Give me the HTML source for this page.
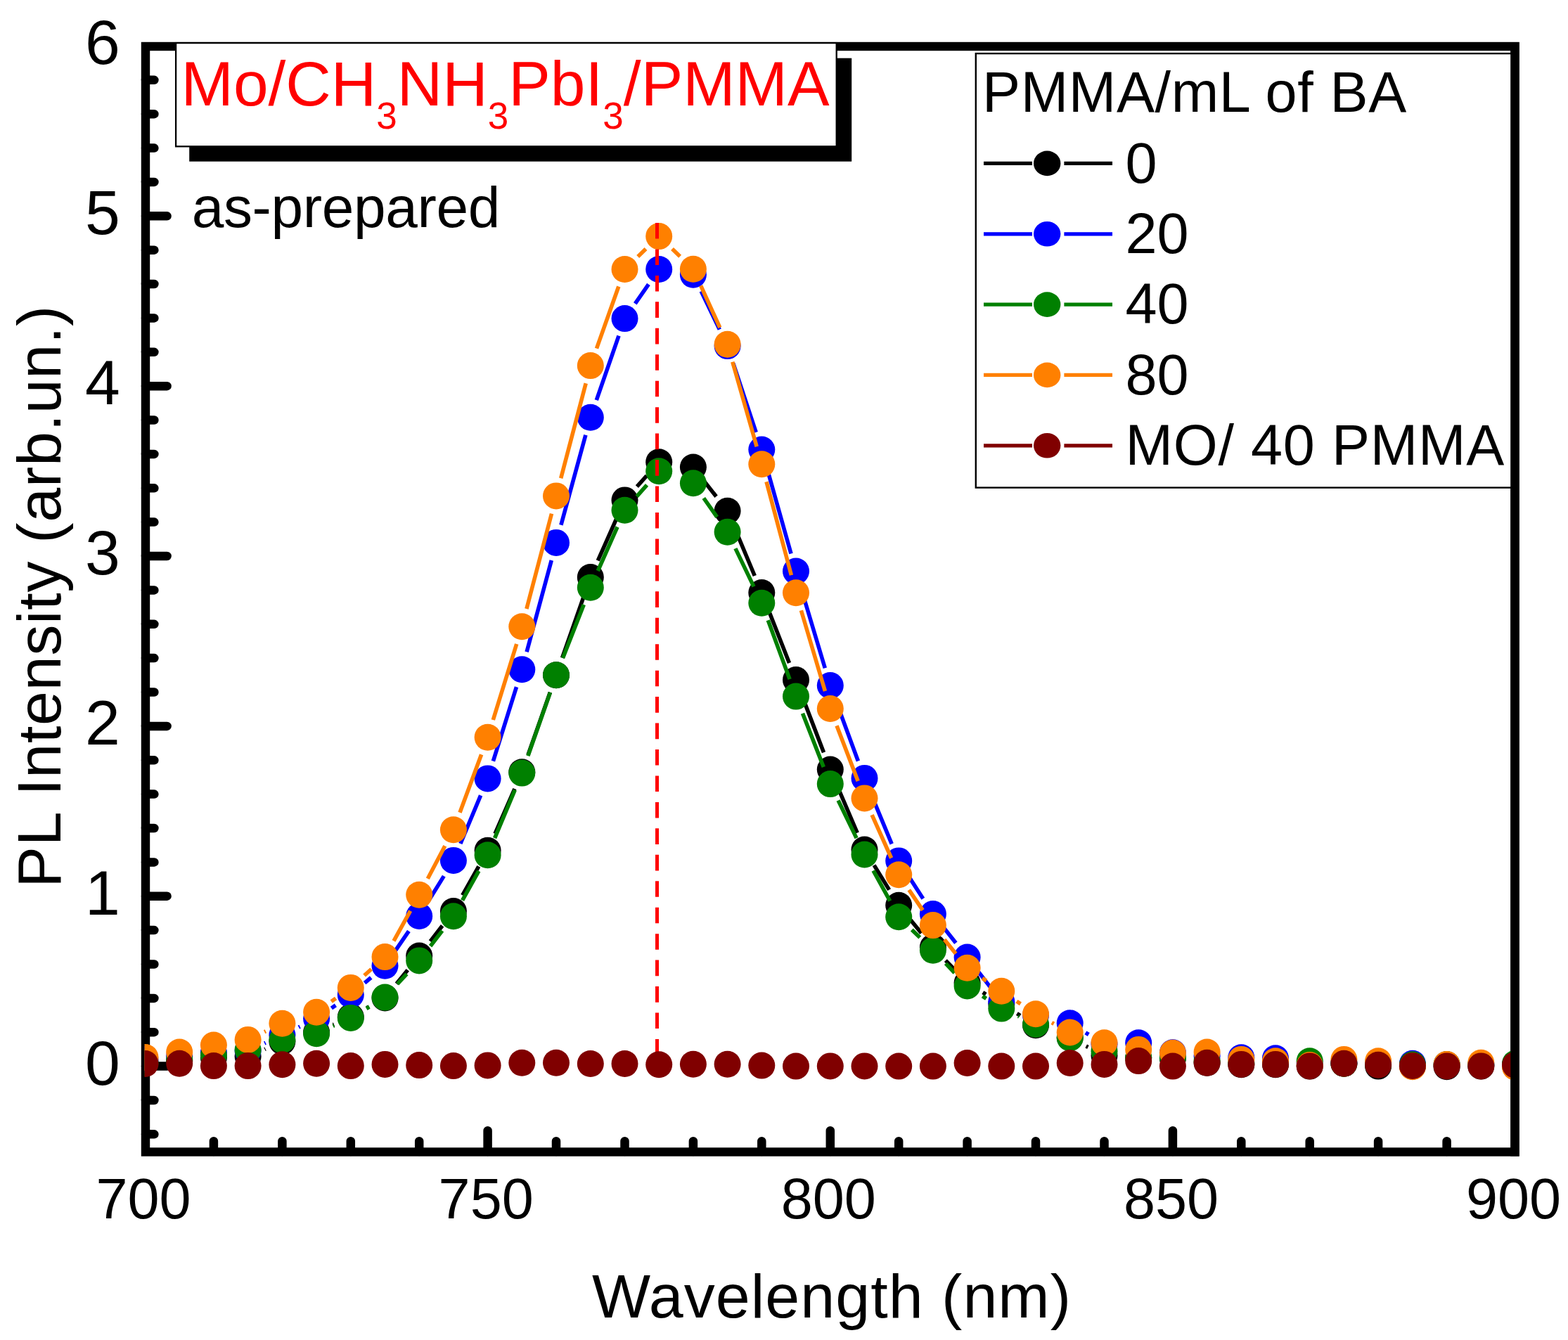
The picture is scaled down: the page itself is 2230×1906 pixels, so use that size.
<!DOCTYPE html><html><head><meta charset="utf-8"><title>PL Intensity</title><style>html,body{margin:0;padding:0;background:#fff;}svg{display:block;}</style></head><body><svg width="2230" height="1906" viewBox="0 0 2230 1906"><rect width="2230" height="1906" fill="#fff"/><defs><clipPath id="pc"><rect x="205.5" y="66" width="1950" height="1572"/></clipPath></defs><rect x="207" y="66" width="1947.5" height="1572.5" fill="none" stroke="#000" stroke-width="12.4" stroke-linejoin="miter"/><path d="M207 1613.3H219.4M207 1565.0H219.4M207 1516.6H237.6M207 1468.2H219.4M207 1419.9H219.4M207 1371.5H219.4M207 1323.1H219.4M207 1274.7H237.6M207 1226.4H219.4M207 1178.0H219.4M207 1129.6H219.4M207 1081.3H219.4M207 1032.9H237.6M207 984.5H219.4M207 936.1H219.4M207 887.8H219.4M207 839.4H219.4M207 791.0H237.6M207 742.6H219.4M207 694.3H219.4M207 645.9H219.4M207 597.5H219.4M207 549.2H237.6M207 500.8H219.4M207 452.4H219.4M207 404.0H219.4M207 355.7H219.4M207 307.3H237.6M207 258.9H219.4M207 210.6H219.4M207 162.2H219.4M207 113.8H219.4M303.9 1638V1623.2M401.4 1638V1623.2M498.8 1638V1623.2M596.2 1638V1623.2M693.6 1638V1608.2M791.0 1638V1623.2M888.5 1638V1623.2M985.9 1638V1623.2M1083.3 1638V1623.2M1180.8 1638V1608.2M1278.2 1638V1623.2M1375.6 1638V1623.2M1473.0 1638V1623.2M1570.5 1638V1623.2M1667.9 1638V1608.2M1765.3 1638V1623.2M1862.7 1638V1623.2M1960.1 1638V1623.2M2057.6 1638V1623.2" stroke="#000" stroke-width="12.5" stroke-linecap="round" fill="none"/><g font-family="'Liberation Sans', Arial, sans-serif" font-size="89.5" fill="#000"><text x="170.7" y="1542.6" text-anchor="end">0</text><text x="170.7" y="1300.7" text-anchor="end">1</text><text x="170.7" y="1058.9" text-anchor="end">2</text><text x="170.7" y="817.0" text-anchor="end">3</text><text x="170.7" y="575.2" text-anchor="end">4</text><text x="170.7" y="333.3" text-anchor="end">5</text><text x="170.7" y="91.4" text-anchor="end">6</text></g><g font-family="'Liberation Sans', Arial, sans-serif" font-size="81" fill="#000"><text x="204.1" y="1733.2" text-anchor="middle">700</text><text x="691.2" y="1733.2" text-anchor="middle">750</text><text x="1178.3" y="1733.2" text-anchor="middle">800</text><text x="1665.5" y="1733.2" text-anchor="middle">850</text><text x="2152.6" y="1733.2" text-anchor="middle">900</text></g><text font-family="'Liberation Sans', Arial, sans-serif" font-size="88" x="842" y="1873.8" textLength="681.00" lengthAdjust="spacing">Wavelength (nm)</text><text font-family="'Liberation Sans', Arial, sans-serif" font-size="88" transform="translate(86 1262.7) rotate(-90)" textLength="828.14" lengthAdjust="spacing">PL Intensity (arb.un.)</text><g clip-path="url(#pc)"><path d="M376.5 1492.4L377.5 1491.9M473.8 1457.6L475.0 1457.1M521.5 1433.8L524.8 1432.0M563.9 1399.2L579.8 1379.8M612.0 1339.0L629.1 1316.7M657.7 1273.4L680.8 1232.3M704.0 1185.9L731.9 1122.0M751.0 1073.7L782.4 984.8M799.6 935.8L831.2 845.6M850.3 797.3L877.9 735.2M905.9 692.1L919.8 676.6M1001.9 685.0L1018.6 706.2M1044.7 750.7L1073.3 819.0M1092.8 867.2L1122.5 942.9M1141.3 991.4L1171.5 1070.3M1191.0 1118.5L1219.2 1184.6M1243.1 1230.6L1264.6 1265.6M1294.6 1307.9L1310.4 1327.2M1344.9 1366.1L1357.6 1379.3M1397.8 1411.6L1402.1 1414.3M1446.4 1441.6L1451.0 1444.5M1544.7 1488.1L1547.4 1489.5" stroke="#000000" stroke-width="5.6" fill="none"/><g fill="#000000"><circle cx="206.5" cy="1511.8" r="19.0"/><circle cx="255.2" cy="1509.3" r="19.0"/><circle cx="303.9" cy="1504.5" r="19.0"/><circle cx="352.6" cy="1502.8" r="19.0"/><circle cx="401.4" cy="1481.5" r="19.0"/><circle cx="450.1" cy="1468.2" r="19.0"/><circle cx="498.8" cy="1446.5" r="19.0"/><circle cx="547.5" cy="1419.4" r="19.0"/><circle cx="596.2" cy="1359.6" r="19.0"/><circle cx="644.9" cy="1296.0" r="19.0"/><circle cx="693.6" cy="1209.7" r="19.0"/><circle cx="742.3" cy="1098.2" r="19.0"/><circle cx="791.0" cy="960.3" r="19.0"/><circle cx="839.8" cy="821.0" r="19.0"/><circle cx="888.5" cy="711.4" r="19.0"/><circle cx="937.2" cy="657.3" r="19.0"/><circle cx="985.9" cy="664.5" r="19.0"/><circle cx="1034.6" cy="726.7" r="19.0"/><circle cx="1083.3" cy="843.0" r="19.0"/><circle cx="1132.0" cy="967.1" r="19.0"/><circle cx="1180.8" cy="1094.6" r="19.0"/><circle cx="1229.5" cy="1208.5" r="19.0"/><circle cx="1278.2" cy="1287.8" r="19.0"/><circle cx="1326.9" cy="1347.3" r="19.0"/><circle cx="1375.6" cy="1398.1" r="19.0"/><circle cx="1424.3" cy="1427.8" r="19.0"/><circle cx="1473.0" cy="1458.3" r="19.0"/><circle cx="1521.7" cy="1476.0" r="19.0"/><circle cx="1570.5" cy="1501.6" r="19.0"/><circle cx="1619.2" cy="1504.5" r="19.0"/><circle cx="1667.9" cy="1505.7" r="19.0"/><circle cx="1716.6" cy="1511.8" r="19.0"/><circle cx="1765.3" cy="1514.2" r="19.0"/><circle cx="1814.0" cy="1514.2" r="19.0"/><circle cx="1862.7" cy="1516.6" r="19.0"/><circle cx="1911.4" cy="1512.7" r="19.0"/><circle cx="1960.1" cy="1516.6" r="19.0"/><circle cx="2008.9" cy="1516.6" r="19.0"/><circle cx="2057.6" cy="1517.3" r="19.0"/><circle cx="2106.3" cy="1516.6" r="19.0"/><circle cx="2155.0" cy="1516.6" r="19.0"/></g><path d="M376.2 1483.9L377.7 1483.2M424.8 1461.1L426.6 1460.2M471.4 1434.0L477.4 1429.9M518.6 1398.2L527.7 1390.5M562.2 1352.3L581.4 1324.4M609.8 1280.9L631.3 1246.1M654.9 1200.0L683.6 1131.4M701.4 1082.6L734.5 977.1M749.1 927.2L784.3 797.0M797.9 746.8L832.9 618.7M848.3 569.1L880.0 477.7M903.3 431.8L922.4 404.4M997.2 414.2L1023.3 468.6M1042.8 516.8L1075.2 614.9M1090.4 664.6L1125.0 787.5M1139.5 837.5L1173.3 950.2M1189.8 999.5L1220.4 1082.5M1239.4 1130.9L1268.2 1200.4M1292.2 1246.3L1312.8 1278.3M1343.0 1320.5L1359.4 1341.2M1391.5 1382.2L1408.4 1404.1M1543.9 1468.8L1548.3 1471.5" stroke="#0000ff" stroke-width="5.6" fill="none"/><g fill="#0000ff"><circle cx="206.5" cy="1506.9" r="19.0"/><circle cx="255.2" cy="1502.1" r="19.0"/><circle cx="303.9" cy="1497.3" r="19.0"/><circle cx="352.6" cy="1494.8" r="19.0"/><circle cx="401.4" cy="1472.3" r="19.0"/><circle cx="450.1" cy="1448.9" r="19.0"/><circle cx="498.8" cy="1415.0" r="19.0"/><circle cx="547.5" cy="1373.7" r="19.0"/><circle cx="596.2" cy="1303.0" r="19.0"/><circle cx="644.9" cy="1223.9" r="19.0"/><circle cx="693.6" cy="1107.4" r="19.0"/><circle cx="742.3" cy="952.3" r="19.0"/><circle cx="791.0" cy="771.9" r="19.0"/><circle cx="839.8" cy="593.7" r="19.0"/><circle cx="888.5" cy="453.1" r="19.0"/><circle cx="937.2" cy="383.0" r="19.0"/><circle cx="985.9" cy="390.7" r="19.0"/><circle cx="1034.6" cy="492.1" r="19.0"/><circle cx="1083.3" cy="639.6" r="19.0"/><circle cx="1132.0" cy="812.5" r="19.0"/><circle cx="1180.8" cy="975.1" r="19.0"/><circle cx="1229.5" cy="1106.9" r="19.0"/><circle cx="1278.2" cy="1224.4" r="19.0"/><circle cx="1326.9" cy="1300.1" r="19.0"/><circle cx="1375.6" cy="1361.6" r="19.0"/><circle cx="1424.3" cy="1424.7" r="19.0"/><circle cx="1473.0" cy="1444.0" r="19.0"/><circle cx="1521.7" cy="1455.2" r="19.0"/><circle cx="1570.5" cy="1485.2" r="19.0"/><circle cx="1619.2" cy="1483.2" r="19.0"/><circle cx="1667.9" cy="1497.3" r="19.0"/><circle cx="1716.6" cy="1502.1" r="19.0"/><circle cx="1765.3" cy="1504.3" r="19.0"/><circle cx="1814.0" cy="1505.2" r="19.0"/><circle cx="1862.7" cy="1511.8" r="19.0"/><circle cx="1911.4" cy="1511.8" r="19.0"/><circle cx="1960.1" cy="1511.8" r="19.0"/><circle cx="2008.9" cy="1512.7" r="19.0"/><circle cx="2057.6" cy="1514.2" r="19.0"/><circle cx="2106.3" cy="1514.2" r="19.0"/><circle cx="2155.0" cy="1514.2" r="19.0"/></g><path d="M473.7 1459.4L475.1 1458.7M521.1 1434.5L525.2 1432.0M565.2 1399.6L578.5 1385.4M612.1 1345.8L629.0 1323.9M657.6 1280.6L680.9 1238.9M703.6 1192.2L732.3 1123.6M750.9 1075.1L782.5 984.9M800.5 936.1L830.3 860.0M850.3 812.0L878.0 749.5M905.6 706.2L920.0 689.9M1000.8 708.5L1019.7 735.4M1045.9 780.1L1072.0 834.4M1092.3 882.2L1123.1 966.1M1141.5 1014.8L1171.3 1090.9M1192.1 1138.5L1218.1 1192.1M1242.0 1238.3L1265.7 1281.5M1296.8 1322.4L1308.3 1333.5M1344.9 1370.4L1357.6 1383.7M1397.3 1416.8L1402.6 1420.3M1448.0 1445.4L1449.4 1446.1" stroke="#008000" stroke-width="5.6" fill="none"/><g fill="#008000"><circle cx="206.5" cy="1511.8" r="19.0"/><circle cx="255.2" cy="1506.9" r="19.0"/><circle cx="303.9" cy="1501.1" r="19.0"/><circle cx="352.6" cy="1493.6" r="19.0"/><circle cx="401.4" cy="1479.1" r="19.0"/><circle cx="450.1" cy="1470.2" r="19.0"/><circle cx="498.8" cy="1447.9" r="19.0"/><circle cx="547.5" cy="1418.6" r="19.0"/><circle cx="596.2" cy="1366.4" r="19.0"/><circle cx="644.9" cy="1303.3" r="19.0"/><circle cx="693.6" cy="1216.2" r="19.0"/><circle cx="742.3" cy="1099.6" r="19.0"/><circle cx="791.0" cy="960.3" r="19.0"/><circle cx="839.8" cy="835.8" r="19.0"/><circle cx="888.5" cy="725.7" r="19.0"/><circle cx="937.2" cy="670.3" r="19.0"/><circle cx="985.9" cy="687.3" r="19.0"/><circle cx="1034.6" cy="756.7" r="19.0"/><circle cx="1083.3" cy="857.8" r="19.0"/><circle cx="1132.0" cy="990.6" r="19.0"/><circle cx="1180.8" cy="1115.1" r="19.0"/><circle cx="1229.5" cy="1215.5" r="19.0"/><circle cx="1278.2" cy="1304.2" r="19.0"/><circle cx="1326.9" cy="1351.7" r="19.0"/><circle cx="1375.6" cy="1402.4" r="19.0"/><circle cx="1424.3" cy="1434.6" r="19.0"/><circle cx="1473.0" cy="1456.9" r="19.0"/><circle cx="1521.7" cy="1476.2" r="19.0"/><circle cx="1570.5" cy="1495.3" r="19.0"/><circle cx="1619.2" cy="1504.5" r="19.0"/><circle cx="1667.9" cy="1504.5" r="19.0"/><circle cx="1716.6" cy="1509.3" r="19.0"/><circle cx="1765.3" cy="1511.8" r="19.0"/><circle cx="1814.0" cy="1511.8" r="19.0"/><circle cx="1862.7" cy="1509.3" r="19.0"/><circle cx="1911.4" cy="1512.7" r="19.0"/><circle cx="1960.1" cy="1514.2" r="19.0"/><circle cx="2008.9" cy="1514.2" r="19.0"/><circle cx="2057.6" cy="1514.2" r="19.0"/><circle cx="2106.3" cy="1514.2" r="19.0"/><circle cx="2155.0" cy="1512.7" r="19.0"/></g><path d="M376.1 1467.7L377.9 1466.8M471.2 1424.6L477.6 1420.0M518.1 1387.5L528.1 1378.5M560.0 1338.3L583.6 1295.6M608.3 1249.8L632.8 1203.2M654.0 1155.8L684.6 1073.2M701.3 1024.0L734.7 916.0M748.9 866.0L784.5 730.6M797.7 680.3L833.2 545.3M848.5 495.6L879.8 407.5M907.2 365.0L918.5 354.1M956.0 354.1L967.1 364.8M996.7 406.4L1023.8 466.0M1041.8 514.7L1076.2 635.2M1090.0 685.3L1125.4 818.1M1139.4 868.2L1173.4 983.0M1190.0 1032.3L1220.2 1111.1M1240.1 1159.2L1267.6 1220.5M1292.8 1265.8L1312.3 1294.6M1343.2 1336.4L1359.3 1356.5M1397.1 1391.4L1402.8 1395.1M1445.9 1424.2L1451.4 1427.9M1495.9 1454.6L1498.8 1456.2" stroke="#ff8000" stroke-width="5.6" fill="none"/><g fill="#ff8000"><circle cx="206.5" cy="1504.0" r="19.0"/><circle cx="255.2" cy="1496.5" r="19.0"/><circle cx="303.9" cy="1486.6" r="19.0"/><circle cx="352.6" cy="1478.9" r="19.0"/><circle cx="401.4" cy="1455.7" r="19.0"/><circle cx="450.1" cy="1439.7" r="19.0"/><circle cx="498.8" cy="1404.9" r="19.0"/><circle cx="547.5" cy="1361.1" r="19.0"/><circle cx="596.2" cy="1272.8" r="19.0"/><circle cx="644.9" cy="1180.2" r="19.0"/><circle cx="693.6" cy="1048.8" r="19.0"/><circle cx="742.3" cy="891.2" r="19.0"/><circle cx="791.0" cy="705.4" r="19.0"/><circle cx="839.8" cy="520.1" r="19.0"/><circle cx="888.5" cy="383.0" r="19.0"/><circle cx="937.2" cy="336.1" r="19.0"/><circle cx="985.9" cy="382.8" r="19.0"/><circle cx="1034.6" cy="489.7" r="19.0"/><circle cx="1083.3" cy="660.2" r="19.0"/><circle cx="1132.0" cy="843.3" r="19.0"/><circle cx="1180.8" cy="1008.0" r="19.0"/><circle cx="1229.5" cy="1135.4" r="19.0"/><circle cx="1278.2" cy="1244.3" r="19.0"/><circle cx="1326.9" cy="1316.1" r="19.0"/><circle cx="1375.6" cy="1376.8" r="19.0"/><circle cx="1424.3" cy="1409.7" r="19.0"/><circle cx="1473.0" cy="1442.3" r="19.0"/><circle cx="1521.7" cy="1468.5" r="19.0"/><circle cx="1570.5" cy="1483.2" r="19.0"/><circle cx="1619.2" cy="1492.9" r="19.0"/><circle cx="1667.9" cy="1497.7" r="19.0"/><circle cx="1716.6" cy="1496.5" r="19.0"/><circle cx="1765.3" cy="1506.9" r="19.0"/><circle cx="1814.0" cy="1509.3" r="19.0"/><circle cx="1862.7" cy="1515.1" r="19.0"/><circle cx="1911.4" cy="1506.9" r="19.0"/><circle cx="1960.1" cy="1509.3" r="19.0"/><circle cx="2008.9" cy="1517.3" r="19.0"/><circle cx="2057.6" cy="1513.9" r="19.0"/><circle cx="2106.3" cy="1511.8" r="19.0"/><circle cx="2155.0" cy="1517.8" r="19.0"/></g><line x1="934.5" y1="317" x2="934.5" y2="1500" stroke="#ff0000" stroke-width="5" stroke-dasharray="22.6 14.85"/><path d="" stroke="#800000" stroke-width="5.6" fill="none"/><g fill="#800000"><circle cx="206.5" cy="1513.0" r="19.0"/><circle cx="255.2" cy="1512.7" r="19.0"/><circle cx="303.9" cy="1516.1" r="19.0"/><circle cx="352.6" cy="1516.1" r="19.0"/><circle cx="401.4" cy="1514.2" r="19.0"/><circle cx="450.1" cy="1512.7" r="19.0"/><circle cx="498.8" cy="1516.1" r="19.0"/><circle cx="547.5" cy="1513.9" r="19.0"/><circle cx="596.2" cy="1515.1" r="19.0"/><circle cx="644.9" cy="1516.1" r="19.0"/><circle cx="693.6" cy="1515.4" r="19.0"/><circle cx="742.3" cy="1511.8" r="19.0"/><circle cx="791.0" cy="1511.8" r="19.0"/><circle cx="839.8" cy="1513.0" r="19.0"/><circle cx="888.5" cy="1513.0" r="19.0"/><circle cx="937.2" cy="1514.2" r="19.0"/><circle cx="985.9" cy="1513.7" r="19.0"/><circle cx="1034.6" cy="1513.7" r="19.0"/><circle cx="1083.3" cy="1515.6" r="19.0"/><circle cx="1132.0" cy="1516.6" r="19.0"/><circle cx="1180.8" cy="1516.4" r="19.0"/><circle cx="1229.5" cy="1516.4" r="19.0"/><circle cx="1278.2" cy="1516.6" r="19.0"/><circle cx="1326.9" cy="1516.6" r="19.0"/><circle cx="1375.6" cy="1512.0" r="19.0"/><circle cx="1424.3" cy="1516.6" r="19.0"/><circle cx="1473.0" cy="1516.6" r="19.0"/><circle cx="1521.7" cy="1512.0" r="19.0"/><circle cx="1570.5" cy="1513.9" r="19.0"/><circle cx="1619.2" cy="1509.1" r="19.0"/><circle cx="1667.9" cy="1516.6" r="19.0"/><circle cx="1716.6" cy="1511.8" r="19.0"/><circle cx="1765.3" cy="1513.9" r="19.0"/><circle cx="1814.0" cy="1513.9" r="19.0"/><circle cx="1862.7" cy="1516.4" r="19.0"/><circle cx="1911.4" cy="1512.7" r="19.0"/><circle cx="1960.1" cy="1514.7" r="19.0"/><circle cx="2008.9" cy="1515.9" r="19.0"/><circle cx="2057.6" cy="1516.4" r="19.0"/><circle cx="2106.3" cy="1516.4" r="19.0"/><circle cx="2155.0" cy="1514.7" r="19.0"/></g></g><rect x="269.2" y="82.7" width="942" height="147" fill="#000"/><rect x="250.1" y="61.1" width="939.6" height="147.2" fill="#fff" stroke="#000" stroke-width="2.3"/><text font-family="'Liberation Sans', Arial, sans-serif" font-size="89.3" fill="#ff0000" x="257.5" y="150.2">Mo/CH<tspan font-size="53" dy="33">3</tspan><tspan dy="-33">NH</tspan><tspan font-size="53" dy="33">3</tspan><tspan dy="-33">PbI</tspan><tspan font-size="53" dy="33">3</tspan><tspan dy="-33">/PMMA</tspan></text><text font-family="'Liberation Sans', Arial, sans-serif" font-size="82" x="272.7" y="323.3" textLength="438.64" lengthAdjust="spacing">as-prepared</text><rect x="1387.8" y="76.1" width="762" height="617.5" fill="#fff" stroke="#000" stroke-width="2.4"/><text font-family="'Liberation Sans', Arial, sans-serif" font-size="81" x="1397.1" y="158.8" textLength="603.12" lengthAdjust="spacing">PMMA/mL of BA</text><path d="M1399 232.4H1468M1513.4 232.4H1582" stroke="#000000" stroke-width="5.3"/><ellipse cx="1489.2" cy="232.4" rx="19.2" ry="17.8" fill="#000000"/><text font-family="'Liberation Sans', Arial, sans-serif" font-size="81" x="1600.5" y="259.7">0</text><path d="M1399 332.8H1468M1513.4 332.8H1582" stroke="#0000ff" stroke-width="5.3"/><ellipse cx="1489.2" cy="332.8" rx="19.2" ry="17.8" fill="#0000ff"/><text font-family="'Liberation Sans', Arial, sans-serif" font-size="81" x="1600.5" y="360.1">20</text><path d="M1399 433.1H1468M1513.4 433.1H1582" stroke="#008000" stroke-width="5.3"/><ellipse cx="1489.2" cy="433.1" rx="19.2" ry="17.8" fill="#008000"/><text font-family="'Liberation Sans', Arial, sans-serif" font-size="81" x="1600.5" y="460.4">40</text><path d="M1399 533.4H1468M1513.4 533.4H1582" stroke="#ff8000" stroke-width="5.3"/><ellipse cx="1489.2" cy="533.4" rx="19.2" ry="17.8" fill="#ff8000"/><text font-family="'Liberation Sans', Arial, sans-serif" font-size="81" x="1600.5" y="560.7">80</text><path d="M1399 633.8H1468M1513.4 633.8H1582" stroke="#800000" stroke-width="5.3"/><ellipse cx="1489.2" cy="633.8" rx="19.2" ry="17.8" fill="#800000"/><text font-family="'Liberation Sans', Arial, sans-serif" font-size="81" x="1600.5" y="661.1" textLength="538.68" lengthAdjust="spacing">MO/ 40 PMMA</text><path d="M2154.5 60V1644.5" stroke="#000" stroke-width="12.4"/></svg></body></html>
